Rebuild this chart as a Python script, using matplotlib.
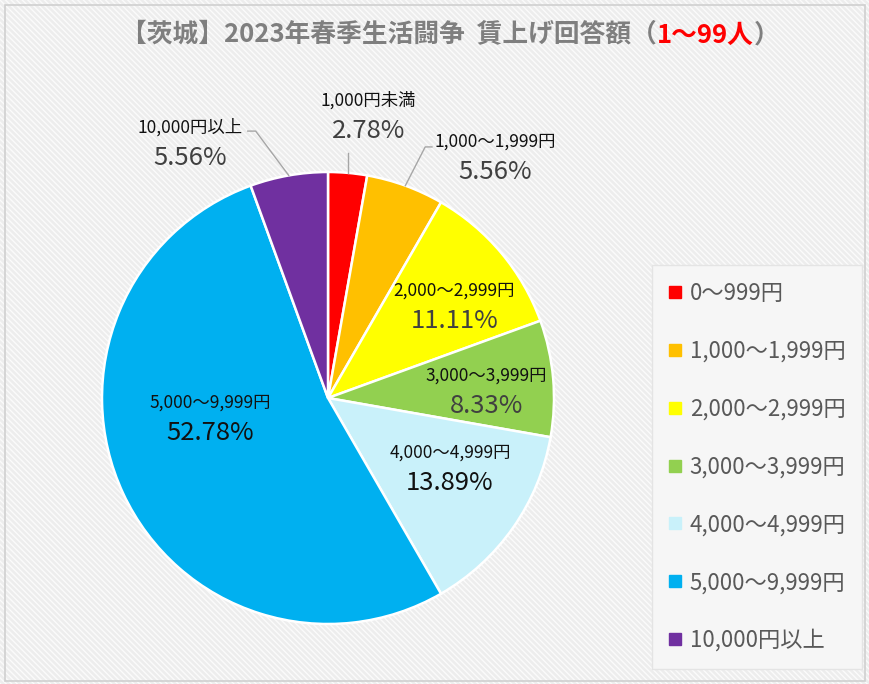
import numpy as np
import matplotlib.pyplot as plt
from matplotlib.patches import Rectangle
from matplotlib.lines import Line2D

plt.rcParams['font.family'] = ['Noto Sans CJK JP', 'DejaVu Sans']

# データ (回答件数の割合, %)
labels = ['1,000円未満', '1,000～1,999円', '2,000～2,999円', '3,000～3,999円',
          '4,000～4,999円', '5,000～9,999円', '10,000円以上']
legend_labels = ['0～999円', '1,000～1,999円', '2,000～2,999円', '3,000～3,999円',
                 '4,000～4,999円', '5,000～9,999円', '10,000円以上']
values = [2.78, 5.56, 11.11, 8.33, 13.89, 52.78, 5.56]
colors = ['#ff0000', '#ffc000', '#ffff00', '#92d050', '#c9f1fa', '#00b0f0', '#7030a0']
pct_colors = ['#404040', '#404040', '#404040', '#404040', '#111111', '#111111', '#404040']

# ラベル位置 (円の半径=1 の座標)
label_pos = [(0.18, 1.25), (0.74, 1.07), (0.56, 0.41), (0.70, 0.035),
             (0.54, -0.305), (-0.52, -0.085), (-0.61, 1.13)]
leader = {0: [(0.08, 1.085)], 1: [(0.43, 1.111), (0.46, 1.111)],
          6: [(-0.32, 1.181), (-0.355, 1.181)]}

W, H = 870, 684
fig = plt.figure(figsize=(W / 100, H / 100), dpi=100)
fig.patch.set_facecolor('#ededed')
fig.patches.append(Rectangle((0, 0), 1, 1, transform=fig.transFigure, facecolor='#ededed',
                             edgecolor='#fbfbfb', hatch='\\\\\\\\\\\\', lw=0, zorder=-10))
fig.patches.append(Rectangle((5 / W, 3 / H), (W - 10) / W, (H - 8) / H, transform=fig.transFigure,
                             fill=False, edgecolor='#d0d0d0', lw=1.2, zorder=-5))

cx, cy, r = 328, 398, 226
ax = fig.add_axes([(cx - r) / W, (H - cy - r) / H, 2 * r / W, 2 * r / H])
wedges, _ = ax.pie(values, colors=colors, startangle=90, counterclock=False, radius=1,
                   wedgeprops=dict(edgecolor='white', linewidth=1.8))
ax.set_xlim(-1, 1)
ax.set_ylim(-1, 1)
ax.axis('off')

for i, (lab, v) in enumerate(zip(labels, values)):
    x, y = label_pos[i]
    ax.text(x, y + 0.065, lab, ha='center', va='center', fontsize=12.5, color='#111111')
    ax.text(x, y - 0.07, f'{v:.2f}%', ha='center', va='center', fontsize=18.5, color=pct_colors[i])

for i, pts in leader.items():
    w = wedges[i]
    ang = np.deg2rad((w.theta1 + w.theta2) / 2)
    xs = [np.cos(ang)] + [p[0] for p in pts]
    ys = [np.sin(ang)] + [p[1] for p in pts]
    if i == 0:
        xs[1] = xs[0]
    ax.plot(xs, ys, color='#a6a6a6', lw=1, clip_on=False)

handles = [Line2D([], [], marker='s', linestyle='none', markersize=8.5, color=c) for c in colors]
leg = fig.legend(handles, legend_labels, loc='upper left',
                 bbox_to_anchor=(652 / W, 1 - 680 / H, 210 / W, 415 / H), mode='expand',
                 borderaxespad=0, fontsize=16, labelspacing=1.57, borderpad=0.75,
                 handlelength=0.6, handletextpad=0.35, fancybox=False, framealpha=1,
                 labelcolor='#595959')
leg.get_frame().set_facecolor('#f6f6f6')
leg.get_frame().set_edgecolor('#e4e4e4')

# タイトル (一部赤字)
parts = [('【茨城】2023年春季生活闘争  賃上げ回答額（', '#7f7f7f'), ('1～99人', '#ff0000'), ('）', '#7f7f7f')]
renderer = fig.canvas.get_renderer()
texts = [fig.text(0, 1 - 35 / H, s, color=c, fontsize=18.5, fontweight='bold', va='center')
         for s, c in parts]
widths = [t.get_window_extent(renderer).width for t in texts]
x0 = 450 - sum(widths) / 2
for t, wd in zip(texts, widths):
    t.set_x(x0 / W)
    x0 += wd

fig.savefig('out.png', dpi=100, facecolor=fig.get_facecolor())
